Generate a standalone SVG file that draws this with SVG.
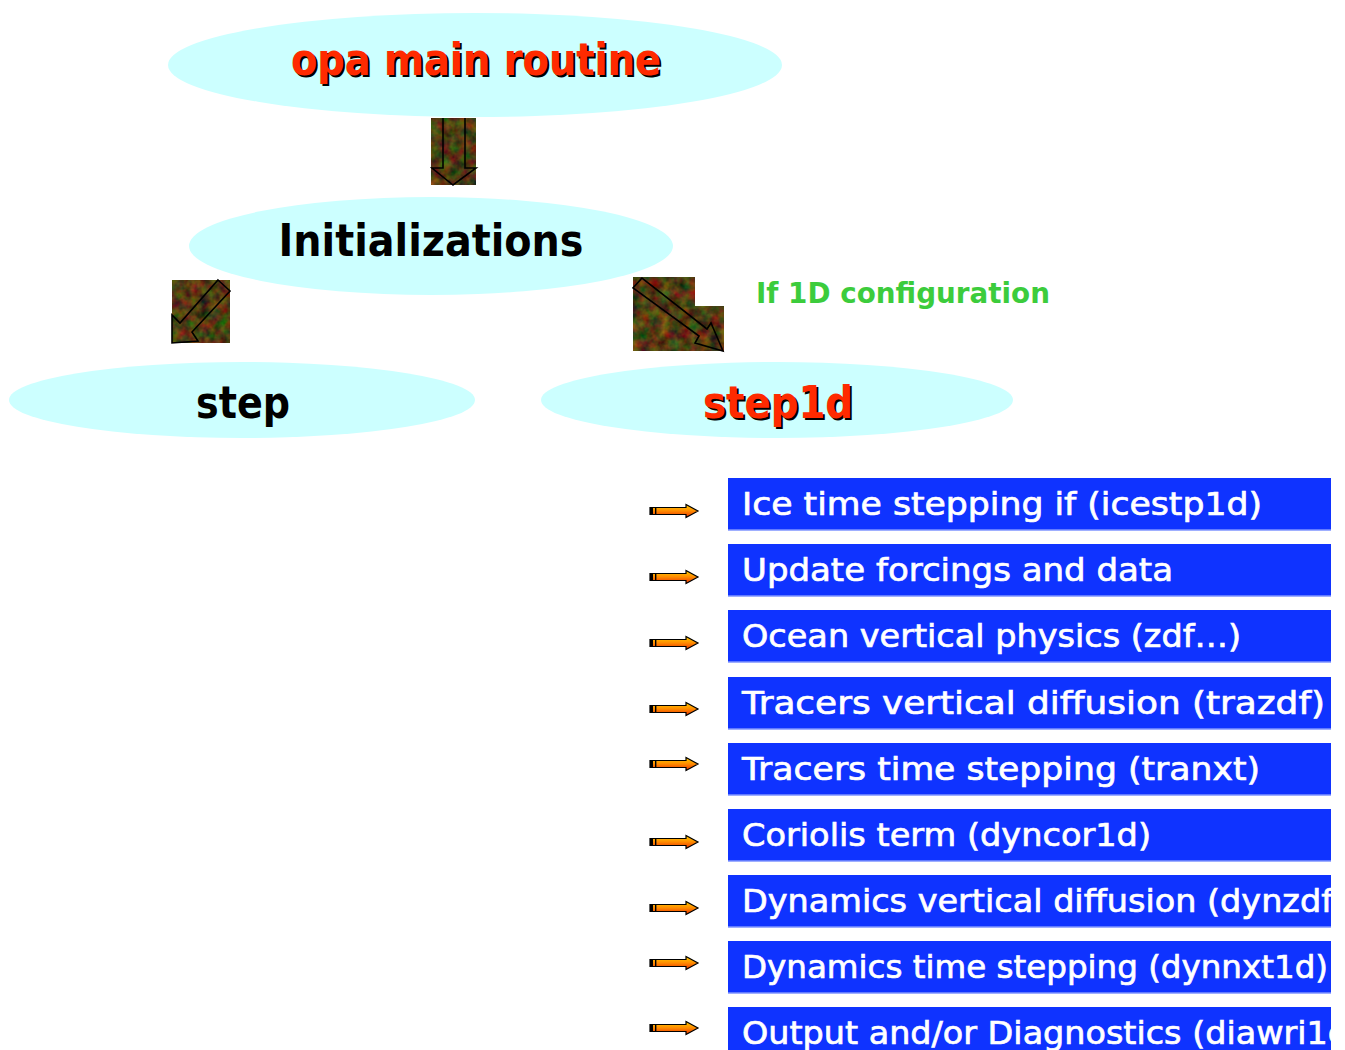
<svg xmlns="http://www.w3.org/2000/svg" width="1345" height="1050" viewBox="0 0 1345 1050">
  <style>
    .oval { fill: #ccffff; }
    .title { font-family: "DejaVu Sans", "Liberation Sans", sans-serif; font-weight: bold; font-size: 44px; text-anchor: middle; }
    .red { fill: #ff2a00; }
    .shadow { fill: #000000; }
    .dark { fill: #000000; }
    .note { font-family: "DejaVu Sans", "Liberation Sans", sans-serif; font-weight: bold; font-size: 28px; fill: #3ccc3c; }
    .box { fill: #0f33ff; }
    .boxline { stroke: #7f95ff; stroke-width: 1.5; }
    .item { font-family: "DejaVu Sans", "Liberation Sans", sans-serif; font-size: 32px; fill: #ffffff; stroke: #ffffff; stroke-width: 0.7; }
    .tile { filter: url(#grain); }
    .outline { fill: none; stroke: #000000; stroke-width: 1.6; stroke-linejoin: miter; }
  </style>
  <defs>
    <!-- mottled brown/green texture for the flow arrow tiles -->
    <filter id="grain" x="0" y="0" width="100%" height="100%" color-interpolation-filters="sRGB">
      <feTurbulence type="fractalNoise" baseFrequency="0.1" numOctaves="3" seed="7" result="noise"/>
      <feColorMatrix in="noise" type="matrix" values="0.75 0 0 0 -0.06  0 0.55 0 0 -0.04  0 0 0.15 0 0.0  0 0 0 0 1" result="tint"/>
      <feComposite in="tint" in2="SourceGraphic" operator="in"/>
    </filter>
    <linearGradient id="orange" x1="0" y1="0" x2="0" y2="1">
      <stop offset="0" stop-color="#ffd000"/>
      <stop offset="0.5" stop-color="#ff8a00"/>
      <stop offset="1" stop-color="#e83000"/>
    </linearGradient>
    <!-- small pointer arrow, origin at left end of its centre line -->
    <g id="pointer">
      <path d="M0,-3.5 H36 V-6.5 L48,0 L36,6.5 V3.5 H0 Z" fill="url(#orange)" stroke="#000" stroke-width="1.2"/>
      <rect x="0" y="-3.5" width="3" height="7" fill="#000"/>
      <rect x="5" y="-3.5" width="1.4" height="7" fill="#000"/>
    </g>
    <clipPath id="boxclip">
      <rect x="728" y="470" width="603" height="580"/>
    </clipPath>
  </defs>

  <!-- call tree nodes -->
  <g id="node-opa">
    <ellipse class="oval" cx="475" cy="65" rx="307" ry="52"/>
    <text class="title shadow" x="478" y="77" textLength="370" lengthAdjust="spacingAndGlyphs">opa main routine</text>
    <text class="title red" x="476" y="75" textLength="370" lengthAdjust="spacingAndGlyphs">opa main routine</text>
  </g>
  <g id="node-init">
    <ellipse class="oval" cx="431" cy="246" rx="242" ry="49"/>
    <text class="title dark" x="431" y="256" textLength="305" lengthAdjust="spacingAndGlyphs">Initializations</text>
  </g>
  <g id="node-step">
    <ellipse class="oval" cx="242" cy="400" rx="233" ry="38"/>
    <text class="title dark" x="243" y="418" textLength="94" lengthAdjust="spacingAndGlyphs">step</text>
  </g>
  <g id="node-step1d">
    <ellipse class="oval" cx="777" cy="400" rx="236" ry="38"/>
    <text class="title shadow" x="780" y="420" textLength="150" lengthAdjust="spacingAndGlyphs">step1d</text>
    <text class="title red" x="778" y="418" textLength="150" lengthAdjust="spacingAndGlyphs">step1d</text>
  </g>
  <g id="note-1d">
    <text class="note" x="756" y="303" textLength="294" lengthAdjust="spacingAndGlyphs">If 1D configuration</text>
  </g>

  <!-- textured arrow connectors between the tree nodes -->
  <g id="connectors">
    <g id="arrow-opa-init">
      <rect class="tile" x="431" y="118" width="45" height="67" fill="#000"/>
      <path class="outline" d="M443,118 V168 H432 L453,185 L476,168 H465 V118"/>
    </g>
    <g id="arrow-init-step">
      <rect class="tile" x="172" y="280" width="58" height="63" fill="#000"/>
      <path class="outline" d="M218,280 L230,291 L192,332 L198,341 L172,343 L172,315 L180,323 Z"/>
    </g>
    <g id="arrow-init-step1d">
      <path class="tile" d="M633,277 H695 V306 H724 V351 H633 Z" fill="#000"/>
      <path class="outline" d="M642,278 L633,288 L699,336 L695,343 L723,351 L711,323 L707,329 Z"/>
    </g>
  </g>

  <!-- step1d sequence -->
  <g id="seq-pointers">
    <use href="#pointer" x="650" y="511"/>
    <use href="#pointer" x="650" y="577"/>
    <use href="#pointer" x="650" y="643"/>
    <use href="#pointer" x="650" y="709"/>
    <use href="#pointer" x="650" y="764"/>
    <use href="#pointer" x="650" y="842"/>
    <use href="#pointer" x="650" y="908"/>
    <use href="#pointer" x="650" y="963"/>
    <use href="#pointer" x="650" y="1028"/>
  </g>

  <g id="seq-boxes" clip-path="url(#boxclip)">
    <g id="box-icestp">
      <rect class="box" x="728" y="478" width="603" height="52"/>
      <line class="boxline" x1="728" y1="530" x2="1331" y2="530"/>
      <text class="item" x="742" y="515" textLength="520" lengthAdjust="spacingAndGlyphs">Ice time stepping if (icestp1d)</text>
    </g>
    <g id="box-forcings">
      <rect class="box" x="728" y="544" width="603" height="52"/>
      <line class="boxline" x1="728" y1="596" x2="1331" y2="596"/>
      <text class="item" x="742" y="581" textLength="431" lengthAdjust="spacingAndGlyphs">Update forcings and data</text>
    </g>
    <g id="box-zdf">
      <rect class="box" x="728" y="610" width="603" height="52"/>
      <line class="boxline" x1="728" y1="662" x2="1331" y2="662"/>
      <text class="item" x="742" y="647" textLength="499" lengthAdjust="spacingAndGlyphs">Ocean vertical physics (zdf…)</text>
    </g>
    <g id="box-trazdf">
      <rect class="box" x="728" y="677" width="603" height="52"/>
      <line class="boxline" x1="728" y1="729" x2="1331" y2="729"/>
      <text class="item" x="742" y="714" textLength="583" lengthAdjust="spacingAndGlyphs">Tracers vertical diffusion (trazdf)</text>
    </g>
    <g id="box-tranxt">
      <rect class="box" x="728" y="743" width="603" height="52"/>
      <line class="boxline" x1="728" y1="795" x2="1331" y2="795"/>
      <text class="item" x="742" y="780" textLength="518" lengthAdjust="spacingAndGlyphs">Tracers time stepping (tranxt)</text>
    </g>
    <g id="box-dyncor">
      <rect class="box" x="728" y="809" width="603" height="52"/>
      <line class="boxline" x1="728" y1="861" x2="1331" y2="861"/>
      <text class="item" x="742" y="846" textLength="409" lengthAdjust="spacingAndGlyphs">Coriolis term (dyncor1d)</text>
    </g>
    <g id="box-dynzdf">
      <rect class="box" x="728" y="875" width="603" height="52"/>
      <line class="boxline" x1="728" y1="927" x2="1331" y2="927"/>
      <text class="item" x="742" y="912" textLength="604" lengthAdjust="spacingAndGlyphs">Dynamics vertical diffusion (dynzdf)</text>
    </g>
    <g id="box-dynnxt">
      <rect class="box" x="728" y="941" width="603" height="52"/>
      <line class="boxline" x1="728" y1="993" x2="1331" y2="993"/>
      <text class="item" x="742" y="978" textLength="586" lengthAdjust="spacingAndGlyphs">Dynamics time stepping (dynnxt1d)</text>
    </g>
    <g id="box-diawri">
      <rect class="box" x="728" y="1007" width="603" height="52"/>
      <text class="item" x="742" y="1044" textLength="620" lengthAdjust="spacingAndGlyphs">Output and/or Diagnostics (diawri1d)</text>
    </g>
  </g>
</svg>
